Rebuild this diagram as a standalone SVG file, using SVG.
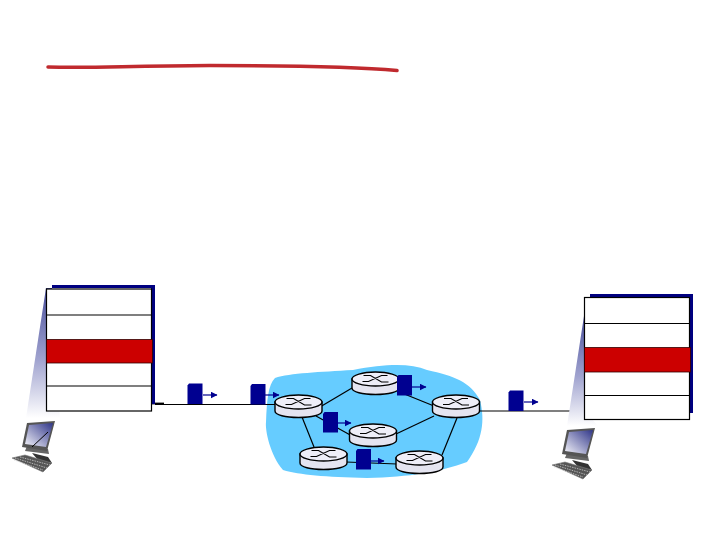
<svg xmlns="http://www.w3.org/2000/svg" xmlns:xlink="http://www.w3.org/1999/xlink" width="720" height="540" viewBox="0 0 720 540">
<style>
.back{fill:#000080}
.layer{fill:#fff;stroke:#000;stroke-width:1.2}
.red{fill:#cc0000;stroke:#300;stroke-width:.8}
.link{fill:none;stroke:#000;stroke-width:1.2}
.rt{fill:#e4e4f0;stroke:#000;stroke-width:1.4}
.rtop{fill:#eeeef8;stroke:#000;stroke-width:1.4}
.x{fill:none;stroke:#000;stroke-width:1.1}
.pk{fill:#000090}
.ar{stroke:#000090;stroke-width:1.200;fill:none}
</style>
<defs>
<linearGradient id="beam" x1="0" y1="0" x2="0" y2="1"><stop offset="0" stop-color="#4a4f9c"/><stop offset=".55" stop-color="#a0a3cf"/><stop offset="1" stop-color="#fff"/></linearGradient>
<linearGradient id="scr" x1="0" y1="1" x2="1" y2="0"><stop offset="0" stop-color="#f4f4fa"/><stop offset="1" stop-color="#2f3588"/></linearGradient>
<marker id="tip" markerUnits="userSpaceOnUse" markerWidth="8" markerHeight="8" refX="6.500" refY="3.500" orient="auto"><path d="M0 0L7 3.500L0 7Z" fill="#000090"/></marker>
<g id="rdef">
<path class="rt" d="M-23.500 -4V5C-23.500 9 -13 11.500 0 11.500S23.500 9 23.500 5V-4Z"/>
<ellipse class="rtop" cx="0" cy="-4" rx="23.500" ry="7"/>
<path class="x" d="M-13 -1.500H-7L6 -7.500H12M-12 -7.500H-5L6 -1H13"/>
</g>
<g id="packet"><path class="pk" d="M1.500 0H15V20.500H0V2Z"/></g>
<g id="pc">
<path d="M25 451L49 454L48 449L27 446Z" fill="#666"/>
<path d="M27 423L55 421L47 451L22 447Z" fill="#555"/>
<path d="M29 425L53 423L46 447L25 444Z" fill="url(#scr)"/>
<path d="M32 453L48 457L52 463L38 460Z" fill="#333"/>
<path d="M12 458L25 455L52 463L43 472Z" fill="#555" stroke="#777" stroke-width=".6"/>
<path d="M15 458L47 468M20 457L50 465M14 460L43 470" stroke="#ddd" stroke-width=".7" stroke-dasharray="1.500 1"/>
</g>
</defs>
<rect width="720" height="540" fill="#fff"/>

<path id="underline" d="M48 67C90 68 110 66.500 210 65.500C300 65.500 360 67 397 70.500" fill="none" stroke="#c02a2e" stroke-width="3.500" stroke-linecap="round"/>

<g id="cloud"><path d="M275 378C290 373 320 372 353 370C385 364 410 363 427 370C455 376 470 382 480 400C485 420 483 440 467 462C440 472 410 477 367 478C325 477 300 475 283 470C270 455 265 430 266 422C267 400 268 385 275 378Z" fill="#66ccff"/></g>

<g id="connectors">
<path class="link" d="M155 404.500H275"/>
<path d="M151 403.500H164" stroke="#000" stroke-width="1.800"/>
<path class="link" d="M479 411H584.500"/>
<path class="link" d="M320 407L352 388"/>
<path class="link" d="M316 416L352 436"/>
<path class="link" d="M302 417L314 447"/>
<path class="link" d="M346 462L397 464"/>
<path class="link" d="M396 434L434 416"/>
<path class="link" d="M392 389L434 406"/>
<path class="link" d="M457 418L442 455"/>
<path class="ar" marker-end="url(#tip)" d="M203 395H217"/>
<path class="ar" marker-end="url(#tip)" d="M265 395H279"/>
<path class="ar" marker-end="url(#tip)" d="M412 387H426"/>
<path class="ar" marker-end="url(#tip)" d="M337 423H351"/>
<path class="ar" marker-end="url(#tip)" d="M370 461H384"/>
<path class="ar" marker-end="url(#tip)" d="M524 402H538"/>
</g>

<g id="host-left">
<path d="M46 288L52 288L60 418L26 418Z" fill="url(#beam)"/>
<use xlink:href="#pc"/>
<path d="M32 447L48 432" stroke="#000" stroke-width="1"/>
</g>
<g id="stack-left">
<path class="back" d="M52 285H155V404H151V288H52Z"/>
<rect class="layer" x="46.500" y="289" width="105" height="122"/>
<path class="link" d="M46.500 315H151.500M46.500 386H151.500"/>
<rect class="red" x="46.500" y="339.500" width="106" height="23.500"/>
</g>

<g id="host-right">
<path d="M584 316L567 426L598 426L584 410Z" fill="url(#beam)"/>
<use xlink:href="#pc" x="540" y="7"/>
</g>
<g id="stack-right">
<path class="back" d="M590 294H693V413H689V297H590Z"/>
<rect class="layer" x="584.500" y="297.500" width="105" height="122"/>
<path class="link" d="M584.500 323.500H689.500M584.500 395.500H689.500"/>
<rect class="red" x="584.500" y="347.500" width="106" height="24.500"/>
</g>

<g id="router-1"><use xlink:href="#rdef" x="298.500" y="406"/></g>
<g id="router-2"><use xlink:href="#rdef" x="375.500" y="383"/></g>
<g id="router-3"><use xlink:href="#rdef" x="456" y="406"/></g>
<g id="router-4"><use xlink:href="#rdef" x="373" y="435"/></g>
<g id="router-5"><use xlink:href="#rdef" x="323.500" y="458"/></g>
<g id="router-6"><use xlink:href="#rdef" x="419.500" y="462"/></g>

<g id="packet-1"><use xlink:href="#packet" x="187.500" y="383.500"/></g>
<g id="packet-2"><use xlink:href="#packet" x="250.500" y="384"/></g>
<g id="packet-3"><use xlink:href="#packet" x="397" y="375"/></g>
<g id="packet-4"><use xlink:href="#packet" x="323" y="412"/></g>
<g id="packet-5"><use xlink:href="#packet" x="356" y="449"/></g>
<g id="packet-6"><use xlink:href="#packet" x="508.500" y="390.500"/></g>
</svg>
